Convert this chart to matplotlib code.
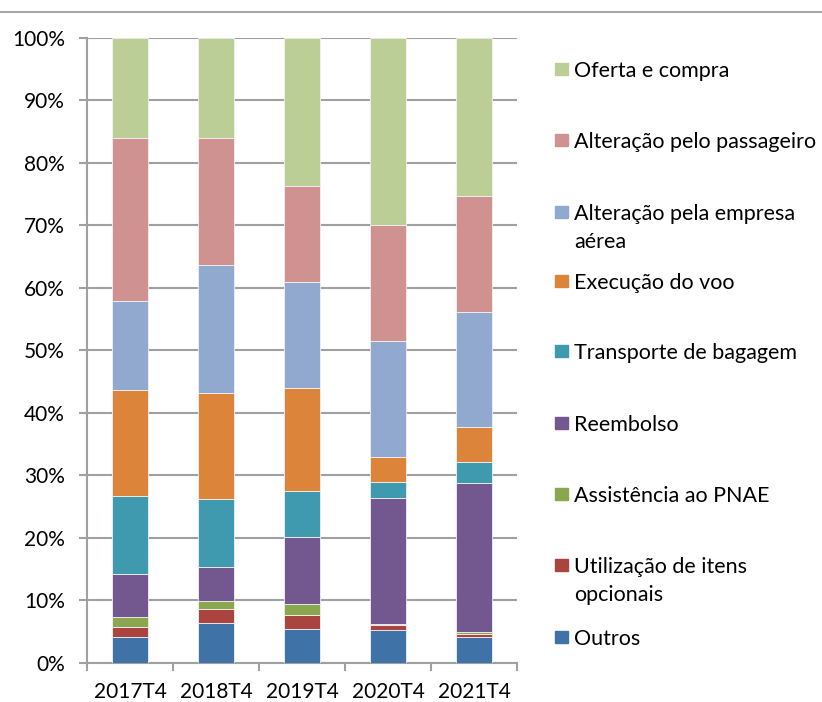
import matplotlib
matplotlib.use("Agg")
import matplotlib.pyplot as plt
import numpy as np
from matplotlib.lines import Line2D
from matplotlib.patches import Rectangle

plt.rcParams["font.family"] = ["Lato", "DejaVu Sans"]

categories = ["2017T4", "2018T4", "2019T4", "2020T4", "2021T4"]

# shares in %, bottom to top of each bar
outros = [4.1, 6.35, 5.4, 5.2, 4.15]
utilizacao = [1.7, 2.35, 2.2, 0.9, 0.55]
assistencia = [1.55, 1.2, 1.8, 0.15, 0.2]
reembolso = [6.95, 5.45, 10.7, 20.15, 23.8]
transporte = [12.45, 10.85, 7.45, 2.6, 3.5]
execucao = [16.85, 16.9, 16.45, 3.9, 5.5]
alt_empresa = [14.2, 20.6, 16.9, 18.5, 18.4]
alt_passageiro = [26.2, 20.2, 15.4, 18.6, 18.5]
oferta = [16.0, 16.1, 23.7, 30.0, 25.4]

series = [
    ("Outros", outros, "#3F73A8"),
    ("Utilização de itens\nopcionais", utilizacao, "#A9443F"),
    ("Assistência ao PNAE", assistencia, "#8AA64E"),
    ("Reembolso", reembolso, "#72588F"),
    ("Transporte de bagagem", transporte, "#3F9AB0"),
    ("Execução do voo", execucao, "#DC843A"),
    ("Alteração pela empresa\naérea", alt_empresa, "#91A9CF"),
    ("Alteração pelo passageiro", alt_passageiro, "#CF9290"),
    ("Oferta e compra", oferta, "#BACE95"),
]

W, H = 822, 702
fig = plt.figure(figsize=(W / 100, H / 100), dpi=100)
ax = fig.add_axes([87 / W, 1 - 663 / H, 430 / W, 625.5 / H])

x = np.arange(len(categories))
totals = np.sum([s[1] for s in series], axis=0)
bottom = np.zeros(len(categories))
for name, vals, color in series:
    share = np.array(vals) / totals * 100
    ax.bar(x, share, width=0.41, bottom=bottom, color=color,
           edgecolor="#F2F2F2", linewidth=0.6, zorder=3)
    bottom += share

grid_c = "#A0A0A0"
ax.set_xlim(-0.5, len(categories) - 0.5)
ax.set_ylim(0, 100)
ax.set_yticks(range(0, 101, 10))
ax.set_yticklabels([f"{v}%" for v in range(0, 101, 10)])
ax.yaxis.grid(True, color=grid_c, linewidth=1.5, zorder=0)
ax.set_xticks(x)
ax.set_xticklabels(categories)
ax.set_xticks(np.arange(-0.5, len(categories)), minor=True)
ax.tick_params(axis="x", which="major", length=0, pad=14, labelsize=15)
ax.tick_params(axis="x", which="minor", length=6, width=1.5, color=grid_c)
ax.tick_params(axis="y", length=6, width=1.5, color=grid_c, pad=10, labelsize=15)
for side in ["top", "right"]:
    ax.spines[side].set_visible(False)
for side in ["left", "bottom"]:
    ax.spines[side].set_color(grid_c)
    ax.spines[side].set_linewidth(1.5)

# legend drawn by hand, top entry = last series
legend_y = [69, 140, 212, 281, 351, 423, 494, 565, 637]
for (name, vals, color), py in zip(series[::-1], legend_y):
    fig.add_artist(Rectangle((555 / W, 1 - (py + 6) / H), 13 / W, 12 / H,
                             transform=fig.transFigure, color=color))
    for i, line in enumerate(name.split("\n")):
        fig.text(574 / W, 1 - (py + 28 * i) / H, line, fontsize=15.5,
                 va="center_baseline", ha="left")

fig.add_artist(Line2D([0, 1], [1 - 12 / H, 1 - 12 / H], color="#A6A6A6",
                      linewidth=1.5, transform=fig.transFigure))

fig.savefig("out.png", dpi=100)
